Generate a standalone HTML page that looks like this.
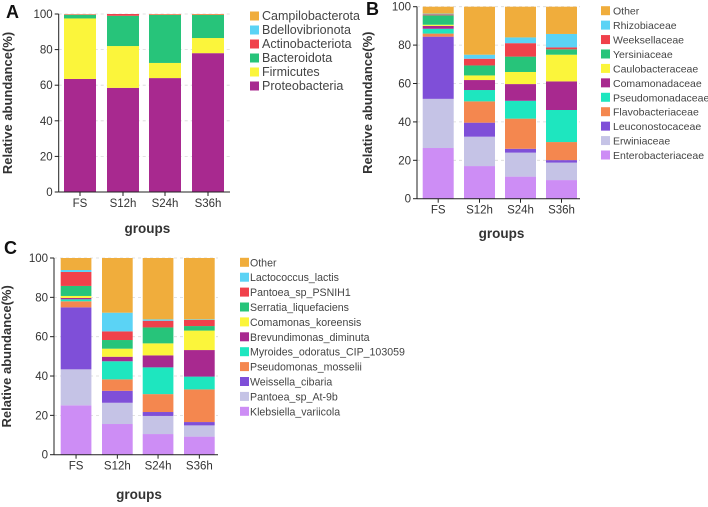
<!DOCTYPE html>
<html><head><meta charset="utf-8">
<style>
body{margin:0;background:#fff;width:708px;height:502px;overflow:hidden;font-family:"Liberation Sans",Arial,sans-serif}
svg text{font-family:"Liberation Sans",Arial,sans-serif}
</style></head>
<body>
<svg id="fig" width="708" height="502" xmlns="http://www.w3.org/2000/svg"></svg>
<script>
const groups=["FS","S12h","S24h","S36h"];
const ticks=[0,20,40,60,80,100];
const C_OTHER="#f0ad3c",C_BLUE="#5bd3f5",C_RED="#f0414b",C_GREEN="#27c47a",C_YEL="#fbf53b",C_MAG="#a8298f",C_TEAL="#1ee6bf",C_ORA="#f4874f",C_PUR="#7f4fd8",C_LAV="#c5c3e6",C_PINK="#cd8df5";
// Panel A (bottom to top)
const aNames=["Proteobacteria","Firmicutes","Bacteroidota","Actinobacteriota","Bdellovibrionota","Campilobacterota"];
const aColors=[C_MAG,C_YEL,C_GREEN,C_RED,C_BLUE,C_OTHER];
const aFS=[63.5,34,2,0.2,0.1,0.2];
const aS12=[58.5,23.5,17,1,0,0];
const aS24=[64,8.5,27,0.3,0,0.2];
const aS36=[78,8.5,13,0.2,0,0.3];
// Panel B
const bNames=["Enterobacteriaceae","Erwiniaceae","Leuconostocaceae","Flavobacteriaceae","Pseudomonadaceae","Comamonadaceae","Caulobacteraceae","Yersiniaceae","Weeksellaceae","Rhizobiaceae","Other"];
const bColors=[C_PINK,C_LAV,C_PUR,C_ORA,C_TEAL,C_MAG,C_YEL,C_GREEN,C_RED,C_BLUE,C_OTHER];
const bFS=[26.4,25.6,32.4,1.6,2.5,1.5,0.6,4.9,0.5,0.4,3.6];
const bS12=[17,15.3,7.3,11.1,5.9,5.2,2.4,5.2,3.5,2.1,25];
const bS24=[11.5,12.5,2,15.7,9.3,8.7,6.3,8,7,3,16];
const bS36=[9.7,9.1,1.3,9.4,16.7,14.9,13.9,2.8,1,7,14.2];
// Panel C
const cNames=["Klebsiella_variicola","Pantoea_sp_At-9b","Weissella_cibaria","Pseudomonas_mosselii","Myroides_odoratus_CIP_103059","Brevundimonas_diminuta","Comamonas_koreensis","Serratia_liquefaciens","Pantoea_sp_PSNIH1","Lactococcus_lactis","Other"];
const cColors=bColors;
const cFS=[25.1,18.3,31.5,3.1,1,0.7,1,5.1,7.1,1,6.1];
const cS12=[15.6,10.8,6.1,5.8,9.2,2.3,4.1,4.4,4.4,9.5,27.8];
const cS24=[10.5,9.2,2,9.1,13.6,6.1,6.1,8.1,3.4,0.7,31.2];
const cS36=[9.2,5.7,1.7,16.6,6.5,13.5,9.9,2.3,3.1,0.3,31.2];

const NS="http://www.w3.org/2000/svg";
const svg=document.getElementById("fig");
function mk(tag,attrs,parent,text){const e=document.createElementNS(NS,tag);for(const k in attrs)e.setAttribute(k,attrs[k]);if(text!==undefined)e.textContent=text;(parent||svg).appendChild(e);return e;}

function panel(p){
  const g=mk("g",{});
  
  
  const y=v=>p.y0-(p.y0-p.y100)*v/100;
  const lt=mk("text",{x:p.lx,y:p.ly,"font-size":18,"font-weight":"bold",fill:"#111"},g,p.letter);
  
  
  ticks.forEach(t=>{
    if(t>0){const gl=mk("line",{x1:p.ax,x2:p.axEnd,y1:y(t),y2:y(t),stroke:"#d8d8d8","stroke-dasharray":"3,3","stroke-width":0.8},g);
    
    }
  });
  p.data.forEach((vals,i)=>{
    let acc=0;
    vals.forEach((v,j)=>{
      const r=mk("rect",{x:p.bx[i],y:y(acc+v),width:p.bw,height:Math.max(0,y(acc)-y(acc+v)),fill:p.colors[j]},g);
      
      
      acc+=v;
    });
    const tl=mk("text",{x:p.bx[i]+p.bw/2,y:p.y0+15,"font-size":11.5,"text-anchor":"middle",fill:"#333"},g,groups[i]);
    
    
    mk("line",{x1:p.bx[i]+p.bw/2,x2:p.bx[i]+p.bw/2,y1:p.y0,y2:p.y0+4,stroke:"#222"},g);
  });
  const ya=mk("line",{x1:p.ax,x2:p.ax,y1:p.y100,y2:p.y0,stroke:"#222"},g);
  
  
  const xa=mk("line",{x1:p.ax,x2:p.axEnd,y1:p.y0,y2:p.y0,stroke:"#222"},g);
  
  
  ticks.forEach(t=>{
    mk("line",{x1:p.ax-4,x2:p.ax,y1:y(t),y2:y(t),stroke:"#222"},g);
    const tt=mk("text",{x:p.ax-6,y:y(t)+4,"font-size":11.5,"text-anchor":"end",fill:"#333"},g,String(t));
    
    
  });
  const yt=mk("text",{x:0,y:0,"font-size":13,"font-weight":"bold","text-anchor":"middle",fill:"#333",transform:`translate(${p.ytx},${(p.y0+p.y100)/2}) rotate(-90)`},g,"Relative abundance(%)");
  
  
  const xt=mk("text",{x:(p.ax+p.axEnd)/2+3,y:p.gy,"font-size":13.5,"font-weight":"bold","text-anchor":"middle",fill:"#333"},g,"groups");
  
  
  const n=p.names.length;
  for(let k=0;k<n;k++){
    const j=n-1-k, ly=p.legY0+k*p.legDy;
    const le=mk("g",{},g);
    
    
    mk("rect",{x:p.legX,y:ly-4.5,width:9,height:9,fill:p.colors[j]},le);
    mk("text",{x:p.legTx,y:ly+4,"font-size":p.legFs,fill:"#444"},le,p.names[j]);
  }
}
panel({id:"a",letter:"A",lx:6,ly:18,y0:192,y100:14,ax:58.7,axEnd:230,bx:[64,107,149,192],bw:32,ytx:12,gy:233,
  data:[aFS,aS12,aS24,aS36],names:aNames,colors:aColors,legX:250,legTx:262,legY0:16,legDy:14,legFs:12.5});
panel({id:"b",letter:"B",lx:366,ly:15,y0:198.7,y100:6.7,ax:417,axEnd:580,bx:[422.7,464,505,546],bw:31,ytx:372,gy:238,
  data:[bFS,bS12,bS24,bS36],names:bNames,colors:bColors,legX:601,legTx:613,legY0:10.7,legDy:14.43,legFs:10.5});
panel({id:"c",letter:"C",lx:4,ly:254,y0:454.7,y100:258,ax:54,axEnd:218,bx:[60.7,102,142.7,184],bw:30.7,ytx:11,gy:499,
  data:[cFS,cS12,cS24,cS36],names:cNames,colors:cColors,legX:240,legTx:250,legY0:262.3,legDy:14.9,legFs:10.6});
</script>
</body></html>
